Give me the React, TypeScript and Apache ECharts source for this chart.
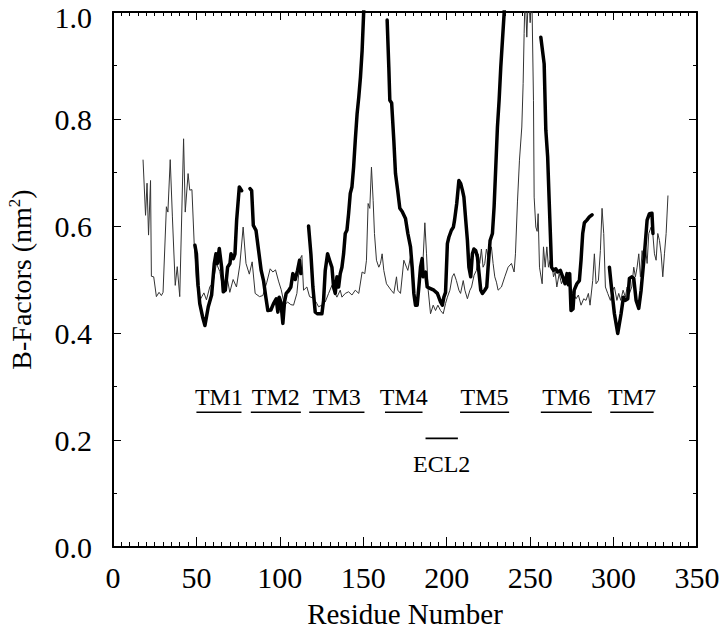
import React, { useEffect, useRef } from "react";
import * as echarts from "echarts";

const FONT = "Liberation Serif";

// Thin trace (residue, B-factor nm^2)
const thinData: number[][] = [
  [18,0.724],[19.5,0.62],[20.4,0.68],[21.3,0.583],[22.5,0.685],[23,0.506],[24.4,0.505],[26,0.468],[27.6,0.476],[29,0.47],[30,0.476],[32,0.636],[32.9,0.626],[34.3,0.724],[35.6,0.617],[37.3,0.489],[38.5,0.524],[40,0.468],[42.3,0.763],[43.3,0.626],[45,0.698],[46,0.667],[47.3,0.668],[48.7,0.564],[50,0.495],[52,0.461],[54.5,0.475],[56,0.462],[58,0.486],[60,0.495],[62,0.53],[64,0.515],[66,0.48],[68,0.51],[70,0.476],[72,0.5],[74,0.486],[76,0.527],[78,0.598],[79.7,0.53],[81.7,0.51],[83.4,0.533],[85.2,0.474],[87.8,0.468],[89.8,0.47],[92.2,0.495],[94.2,0.52],[95.8,0.514],[97.4,0.518],[99.2,0.497],[100.8,0.481],[102.8,0.452],[104.6,0.458],[106.6,0.453],[108.2,0.452],[110.2,0.474],[112.2,0.539],[113.2,0.545],[114.2,0.48],[116.2,0.486],[117.8,0.468],[120.2,0.465],[122.2,0.455],[123.2,0.449],[125.2,0.452],[127.2,0.458],[129.2,0.474],[131.2,0.489],[132.2,0.48],[134.2,0.467],[136.2,0.48],[137.2,0.467],[139.2,0.474],[141.2,0.477],[143.2,0.471],[145.2,0.48],[147.3,0.474],[149.3,0.514],[150.9,0.511],[151.9,0.536],[152.9,0.642],[153.9,0.633],[154.9,0.71],[155.9,0.648],[156.7,0.586],[157.9,0.536],[159.3,0.523],[160.3,0.53],[161.3,0.548],[162.3,0.517],[163.9,0.492],[165.3,0.486],[166.7,0.48],[168.3,0.474],[169.9,0.505],[170.7,0.48],[172.3,0.474],[174.3,0.536],[175.9,0.523],[176.7,0.517],[178.3,0.542],[179.9,0.486],[181.3,0.455],[182.3,0.458],[184.3,0.523],[185.9,0.542],[186.9,0.606],[187.9,0.548],[188.9,0.48],[190.3,0.436],[191.9,0.452],[193.3,0.442],[194.7,0.452],[196.3,0.442],[197.9,0.436],[199.3,0.455],[200.4,0.467],[201.9,0.48],[203.3,0.505],[204.4,0.511],[205.8,0.498],[207.3,0.48],[208.3,0.474],[209.9,0.498],[210.9,0.48],[212.4,0.464],[213.9,0.48],[214.9,0.486],[216.4,0.508],[217.8,0.517],[218.8,0.548],[219.8,0.53],[220.8,0.557],[221.8,0.523],[222.8,0.53],[223.8,0.557],[224.8,0.542],[225.8,0.548],[226.8,0.561],[227.8,0.53],[228.8,0.505],[229.8,0.495],[230.8,0.48],[232.8,0.486],[234.8,0.505],[236.8,0.523],[238.8,0.53],[240.4,0.514],[241.2,0.548],[242.4,0.645],[243.6,0.723],[245,0.785],[245.8,0.866],[246.4,0.96],[247,1.04],[248,0.953],[249,1.04],[250,0.98],[251,1.04],[252,0.835],[252.4,0.654],[253.4,0.598],[254.2,0.59],[254.8,0.623],[255.6,0.523],[257.2,0.492],[258,0.561],[259,0.523],[260,0.561],[261,0.523],[262,0.536],[263,0.53],[264,0.505],[265,0.514],[266,0.486],[267.4,0.511],[268.8,0.492],[270.4,0.505],[271.8,0.495],[273.3,0.511],[274.5,0.48],[276,0.474],[277.5,0.464],[278.9,0.471],[280.5,0.452],[282.1,0.464],[283.5,0.461],[284.9,0.474],[285.9,0.452],[287.5,0.498],[288.5,0.548],[289.5,0.492],[290.9,0.498],[292.1,0.554],[293.1,0.633],[294.1,0.586],[295.1,0.486],[296.5,0.474],[298.1,0.461],[299.5,0.48],[300.5,0.486],[302,0.461],[303.1,0.474],[304.3,0.461],[305.7,0.48],[307.1,0.467],[308.1,0.486],[309.5,0.474],[310.9,0.486],[312.1,0.523],[313.1,0.505],[314.1,0.523],[315.1,0.548],[316.1,0.505],[317.1,0.554],[318.1,0.53],[319.1,0.561],[320.1,0.53],[321.1,0.586],[322.5,0.598],[323.5,0.586],[324.5,0.548],[325.5,0.536],[326.5,0.586],[327.5,0.573],[328.5,0.548],[329.5,0.505],[330.5,0.548],[331.5,0.586],[332.6,0.657]
];

// Thick trace, broken into segments
const thickSeg1: number[][] = [[49.1,0.564],[50,0.548],[51,0.489],[52,0.455],[53.7,0.43],[55.1,0.414],[57.1,0.449],[59.1,0.471],[60.7,0.53],[61.7,0.548],[62.5,0.53],[63.7,0.558],[65.1,0.523],[66.1,0.477],[67.3,0.48],[68.7,0.523],[70.1,0.53],[70.7,0.548],[72.1,0.539],[73.1,0.548],[74.1,0.611],[75.7,0.673],[77.1,0.666]];
const thickSeg2: number[][] = [[82.1,0.67],[83.1,0.666],[84.1,0.601],[85.7,0.592],[87.1,0.558],[88.8,0.517],[90.2,0.498],[91.6,0.467],[92.8,0.442],[94.6,0.443],[96.2,0.455],[97.8,0.464],[98.8,0.439],[99.6,0.467],[100.6,0.458],[101.8,0.418],[102.8,0.458],[103.8,0.474],[105.2,0.479],[106.6,0.486],[107.8,0.511],[109.2,0.5],[110.6,0.517],[111.8,0.536],[112.6,0.511]];
const thickSeg3: number[][] = [[117.2,0.6],[118.6,0.548],[119.8,0.486],[121.2,0.439],[122.6,0.436],[125.2,0.436],[126.2,0.461],[127.2,0.517],[128.6,0.548],[129.8,0.536],[131.2,0.523],[132.2,0.486],[133.2,0.474],[134.2,0.505],[135.2,0.486],[136.2,0.511],[137.2,0.523],[138.2,0.548],[139.2,0.586],[140.2,0.592],[141.2,0.623],[142.2,0.661],[143.2,0.673],[144.2,0.71],[145.2,0.76],[146.3,0.81],[147.3,0.841],[148.3,0.878],[149.3,0.928],[150.2,0.997],[151.2,1.08]];
const thickSeg4: number[][] = [[164.3,0.985],[165.3,0.897],[165.9,0.835],[167,0.83],[168.3,0.76],[169.3,0.698],[170.6,0.667],[171.9,0.633],[173.3,0.627],[175.3,0.614],[176.7,0.586],[178.3,0.561],[179.3,0.523],[180.3,0.474],[181.3,0.452],[182.3,0.452],[183.3,0.486],[184.3,0.523],[185.3,0.539],[185.9,0.505]];
const thickSeg5: number[][] = [[187.3,0.514],[188.3,0.486],[190.3,0.483],[192.3,0.48],[194.4,0.474],[196.3,0.458],[197.4,0.452],[198.3,0.467],[199.3,0.476],[200.4,0.567],[201.3,0.579],[202.8,0.592],[204,0.598],[204.7,0.611],[206,0.642],[207.3,0.685],[208.4,0.679],[209.4,0.667],[210.3,0.654],[211.4,0.611],[212.4,0.573],[213.3,0.523],[214.4,0.505],[215.4,0.548],[216.3,0.557],[217.4,0.554],[218.4,0.542],[219.4,0.511],[220.4,0.48],[221.4,0.474],[222.8,0.48],[224,0.486],[224.8,0.523],[226,0.573],[227.4,0.586],[228.4,0.636],[229.4,0.71],[230.4,0.785],[231.4,0.835],[232.4,0.897],[233.4,0.947],[234.4,0.997],[235.4,1.08]];
const thickSeg6: number[][] = [[256.4,0.953],[258.4,0.903],[259.4,0.779],[260.5,0.729],[261.4,0.648],[262.4,0.561],[262.8,0.523],[264,0.517],[265.4,0.52],[266.5,0.514],[268.1,0.517],[269.5,0.505],[270.9,0.492],[272.1,0.511],[272.9,0.49],[273.7,0.511],[274.5,0.442],[275.7,0.445],[276.4,0.48],[278,0.492],[279.5,0.498],[280.5,0.536],[281.5,0.586],[282.5,0.606],[284,0.611],[285.5,0.617],[287.1,0.621]];
const thickSeg7: number[][] = [[297.5,0.523],[298.5,0.492],[300.5,0.436],[302.5,0.399],[304.5,0.436],[305.9,0.467],[307.1,0.461],[308.5,0.464],[309.5,0.502],[310.9,0.505],[312.1,0.502],[313.5,0.461],[315.1,0.446],[316.5,0.48],[318.5,0.548],[320.1,0.611],[321.5,0.623],[323,0.624],[323.6,0.586]];
const thickSegments = [thickSeg1, thickSeg2, thickSeg3, thickSeg4, thickSeg5, thickSeg6, thickSeg7];

// Secondary-structure annotations
const tmNames = ["TM1", "TM2", "TM3", "TM4", "TM5", "TM6", "TM7"];
const tmStart = [50, 82.6, 117.6, 163, 208, 256.4, 298];
const tmEnd = [77, 112.6, 150.7, 185.5, 237.4, 287, 324];
const tmLevel = 0.252;
const loopNames = ["ECL2"];
const loopStart = [187.3];
const loopEnd = [206.7];
const loopLevel = 0.203;

const yTicks = [0, 0.2, 0.4, 0.6, 0.8, 1.0];

export default function App() {
  const ref = useRef<HTMLDivElement>(null);
  useEffect(() => {
    if (!ref.current) return;
    const chart = echarts.init(ref.current, null, { renderer: "svg" });

    const axisLine = { show: true, onZero: false, lineStyle: { color: "#000", width: 2 } };
    const labelStyle = { fontFamily: FONT, fontSize: 30, color: "#000" };

    const annotationSeries = (
      names: string[], starts: number[], ends: number[], level: number, below: boolean
    ) => ({
      type: "custom",
      xAxisIndex: 0,
      yAxisIndex: 0,
      silent: true,
      z: 5,
      encode: { x: [0, 1], y: 2 },
      data: starts.map((s, i) => [s, ends[i], level]),
      renderItem: (params: any, api: any) => {
        const p1 = api.coord([api.value(0), api.value(2)]);
        const p2 = api.coord([api.value(1), api.value(2)]);
        const cx = (p1[0] + p2[0]) / 2;
        return {
          type: "group",
          children: [
            {
              type: "line",
              shape: { x1: p1[0], y1: p1[1], x2: p2[0], y2: p2[1] },
              style: { stroke: "#000", lineWidth: 1.6 },
            },
            {
              type: "text",
              style: {
                text: names[params.dataIndex],
                x: cx,
                y: below ? p1[1] + 26 : p1[1] - 15,
                align: "center",
                verticalAlign: "middle",
                fontFamily: FONT,
                fontSize: 24,
                fill: "#000",
              },
            },
          ],
        };
      },
    });

    chart.setOption({
      animation: false,
      backgroundColor: "#fff",
      grid: { left: 113, right: 23, top: 12, bottom: 83, containLabel: false, outerBoundsMode: "none" },
      xAxis: [
        {
          type: "value", min: 0, max: 350, interval: 50, position: "bottom",
          axisLine,
          axisTick: { show: true, inside: true, length: 10, lineStyle: { color: "#000", width: 1 } },
          minorTick: { show: true, splitNumber: 10, length: 5, lineStyle: { color: "#000", width: 1 } },
          splitLine: { show: false },
          axisLabel: { ...labelStyle, margin: 15 },
          name: "Residue Number",
          nameLocation: "middle",
          nameGap: 52,
          nameTextStyle: { fontFamily: FONT, fontSize: 29, color: "#000" },
        },
        {
          type: "value", min: 0, max: 350, interval: 50, position: "top",
          axisLine,
          axisTick: { show: true, inside: true, length: 8, lineStyle: { color: "#000", width: 1 } },
          minorTick: { show: true, splitNumber: 10, length: 4, lineStyle: { color: "#000", width: 1 } },
          splitLine: { show: false },
          axisLabel: { show: false },
        },
      ],
      yAxis: [
        {
          type: "value", min: 0, max: 1, interval: 0.2, position: "left",
          axisLine,
          axisTick: { show: true, inside: true, length: 8, lineStyle: { color: "#000", width: 1 } },
          minorTick: { show: true, splitNumber: 2, length: 4, lineStyle: { color: "#000", width: 1 } },
          splitLine: { show: false },
          axisLabel: {
            ...labelStyle, margin: 21,
            formatter: (v: number) => {
              if (!yTicks.some((t) => Math.abs(t - v) < 1e-9)) return "";
              return v >= 0.999 ? "{top|" + v.toFixed(1) + "}" : v.toFixed(1);
            },
            rich: {
              top: { fontFamily: FONT, fontSize: 30, color: "#000", padding: [10, 0, 0, 0] },
            },
          },
          name: "B-Factors (nm{sup|2})",
          nameLocation: "middle",
          nameRotate: 90,
          nameGap: 76,
          nameTextStyle: {
            fontFamily: FONT, fontSize: 28, color: "#000",
            rich: { sup: { fontFamily: FONT, fontSize: 17, color: "#000", verticalAlign: "top", padding: [0, 0, 14, 0] } },
          },
        },
        {
          type: "value", min: 0, max: 1, interval: 0.2, position: "right",
          axisLine,
          axisTick: { show: true, inside: true, length: 8, lineStyle: { color: "#000", width: 1 } },
          minorTick: { show: true, splitNumber: 2, length: 4, lineStyle: { color: "#000", width: 1 } },
          splitLine: { show: false },
          axisLabel: { show: false },
        },
      ],
      series: [
        {
          type: "line", data: thinData, showSymbol: false, symbol: "none", clip: true,
          lineStyle: { color: "#333", width: 1 }, z: 2, silent: true,
        },
        ...thickSegments.map((seg) => ({
          type: "line", data: seg, showSymbol: false, symbol: "none", clip: true,
          lineStyle: { color: "#000", width: 3.5, join: "round", cap: "round" }, z: 3, silent: true,
        })),
        annotationSeries(tmNames, tmStart, tmEnd, tmLevel, false),
        annotationSeries(loopNames, loopStart, loopEnd, loopLevel, true),
      ],
    });
    return () => chart.dispose();
  }, []);
  return (
    <div
      ref={ref}
      style={{ position: "absolute", left: 0, top: 0, width: 720, height: 630, background: "#fff" }}
    />
  );
}
